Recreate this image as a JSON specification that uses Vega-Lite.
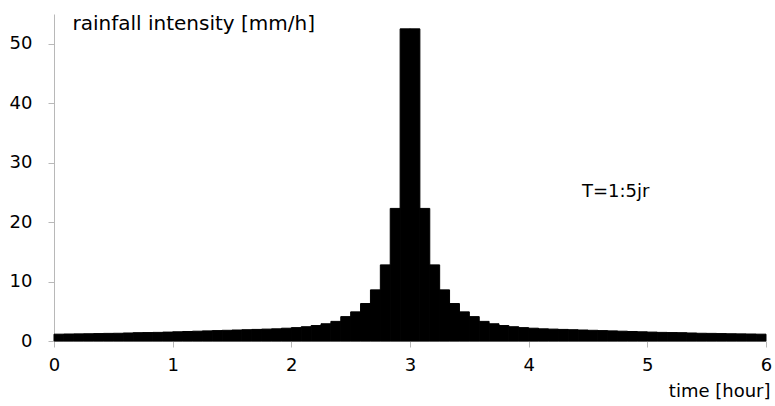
{
  "$schema": "https://vega.github.io/schema/vega-lite/v6.json",
  "autosize": {"type": "none"},
  "padding": {"left": 54, "top": 14, "right": 9, "bottom": 65},
  "width": 712,
  "height": 327,
  "background": "white",
  "config": {
    "view": {"stroke": null},
    "font": "DejaVu Sans",
    "axis": {"grid": false, "domainColor": "#b8b8b8", "tickColor": "#b8b8b8", "labelColor": "#000000", "titleColor": "#000000", "labelFontSize": 18, "titleFontSize": 18, "labelFont": "DejaVu Sans", "titleFont": "DejaVu Sans", "titleFontWeight": "normal"}
  },
  "data": {"values": [
    {"from": 0, "to": 5, "i": 1.15},
    {"from": 5, "to": 10, "i": 1.18},
    {"from": 10, "to": 15, "i": 1.2},
    {"from": 15, "to": 20, "i": 1.22},
    {"from": 20, "to": 25, "i": 1.25},
    {"from": 25, "to": 30, "i": 1.28},
    {"from": 30, "to": 35, "i": 1.3},
    {"from": 35, "to": 40, "i": 1.35},
    {"from": 40, "to": 45, "i": 1.4},
    {"from": 45, "to": 50, "i": 1.42},
    {"from": 50, "to": 55, "i": 1.45},
    {"from": 55, "to": 60, "i": 1.5},
    {"from": 60, "to": 65, "i": 1.55},
    {"from": 65, "to": 70, "i": 1.6},
    {"from": 70, "to": 75, "i": 1.65},
    {"from": 75, "to": 80, "i": 1.7},
    {"from": 80, "to": 85, "i": 1.75},
    {"from": 85, "to": 90, "i": 1.8},
    {"from": 90, "to": 95, "i": 1.85},
    {"from": 95, "to": 100, "i": 1.9},
    {"from": 100, "to": 105, "i": 1.95},
    {"from": 105, "to": 110, "i": 2.0},
    {"from": 110, "to": 115, "i": 2.05},
    {"from": 115, "to": 120, "i": 2.15},
    {"from": 120, "to": 125, "i": 2.25},
    {"from": 125, "to": 130, "i": 2.4},
    {"from": 130, "to": 135, "i": 2.6},
    {"from": 135, "to": 140, "i": 2.9},
    {"from": 140, "to": 145, "i": 3.3},
    {"from": 145, "to": 150, "i": 4.1},
    {"from": 150, "to": 155, "i": 4.9},
    {"from": 155, "to": 160, "i": 6.3},
    {"from": 160, "to": 165, "i": 8.6},
    {"from": 165, "to": 170, "i": 12.8},
    {"from": 170, "to": 175, "i": 22.3},
    {"from": 175, "to": 180, "i": 52.5},
    {"from": 180, "to": 185, "i": 52.5},
    {"from": 185, "to": 190, "i": 22.3},
    {"from": 190, "to": 195, "i": 12.8},
    {"from": 195, "to": 200, "i": 8.6},
    {"from": 200, "to": 205, "i": 6.3},
    {"from": 205, "to": 210, "i": 4.9},
    {"from": 210, "to": 215, "i": 4.1},
    {"from": 215, "to": 220, "i": 3.3},
    {"from": 220, "to": 225, "i": 2.9},
    {"from": 225, "to": 230, "i": 2.6},
    {"from": 230, "to": 235, "i": 2.4},
    {"from": 235, "to": 240, "i": 2.25},
    {"from": 240, "to": 245, "i": 2.15},
    {"from": 245, "to": 250, "i": 2.05},
    {"from": 250, "to": 255, "i": 2.0},
    {"from": 255, "to": 260, "i": 1.95},
    {"from": 260, "to": 265, "i": 1.9},
    {"from": 265, "to": 270, "i": 1.85},
    {"from": 270, "to": 275, "i": 1.8},
    {"from": 275, "to": 280, "i": 1.75},
    {"from": 280, "to": 285, "i": 1.7},
    {"from": 285, "to": 290, "i": 1.65},
    {"from": 290, "to": 295, "i": 1.6},
    {"from": 295, "to": 300, "i": 1.55},
    {"from": 300, "to": 305, "i": 1.5},
    {"from": 305, "to": 310, "i": 1.45},
    {"from": 310, "to": 315, "i": 1.42},
    {"from": 315, "to": 320, "i": 1.4},
    {"from": 320, "to": 325, "i": 1.35},
    {"from": 325, "to": 330, "i": 1.3},
    {"from": 330, "to": 335, "i": 1.28},
    {"from": 335, "to": 340, "i": 1.25},
    {"from": 340, "to": 345, "i": 1.22},
    {"from": 345, "to": 350, "i": 1.2},
    {"from": 350, "to": 355, "i": 1.18},
    {"from": 355, "to": 360, "i": 1.15}
  ]},
  "layer": [
    {
      "mark": {"type": "bar", "fill": "#000000", "stroke": "#000000", "strokeWidth": 1},
      "encoding": {
        "x": {"field": "from", "type": "quantitative",
          "scale": {"domain": [0, 360], "nice": false, "zero": true},
          "axis": {"values": [0, 60, 120, 180, 240, 300, 360], "labelExpr": "datum.value / 60", "tickSize": 6, "labelPadding": 9, "labelFlush": false,
            "title": "time [hour]", "titleAnchor": "end", "titleAlign": "right", "titleBaseline": "middle", "titleX": 716, "titleY": 50}},
        "x2": {"field": "to"},
        "y": {"field": "i", "type": "quantitative",
          "scale": {"domain": [0, 55], "nice": false},
          "axis": {"values": [0, 10, 20, 30, 40, 50], "tickSize": 6, "labelPadding": 16,
            "title": "rainfall intensity [mm/h]", "titleAngle": 0, "titleAlign": "left", "titleBaseline": "middle", "titleX": 18, "titleY": 9, "titleFontSize": 20}},
        "y2": {"datum": 0}
      }
    },
    {
      "data": {"values": [{"label": "T=1:5jr"}]},
      "mark": {"type": "text", "fontSize": 18, "font": "DejaVu Sans", "fill": "#000000", "align": "center", "baseline": "middle"},
      "encoding": {
        "x": {"datum": 284, "type": "quantitative"},
        "y": {"datum": 25.1, "type": "quantitative"},
        "text": {"field": "label"}
      }
    }
  ]
}
